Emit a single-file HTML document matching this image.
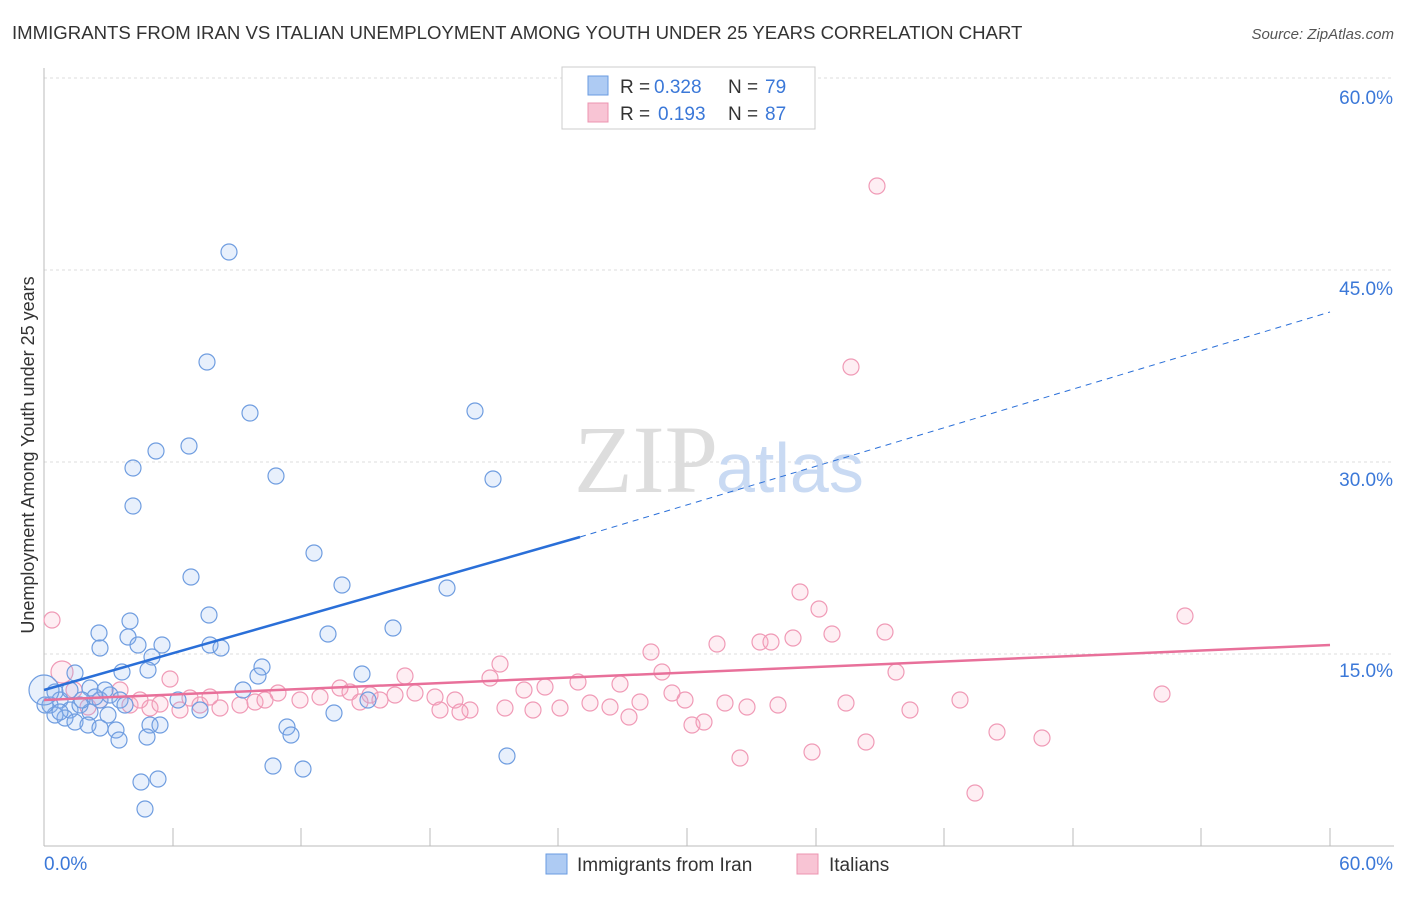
<!DOCTYPE html>
<html><head><meta charset="utf-8"><style>
body{margin:0;background:#fff;font-family:"Liberation Sans",sans-serif}
</style></head><body>
<svg width="1406" height="892" xmlns="http://www.w3.org/2000/svg" font-family="Liberation Sans, sans-serif">
<text x="12" y="39" font-size="18.6" fill="#333">IMMIGRANTS FROM IRAN VS ITALIAN UNEMPLOYMENT AMONG YOUTH UNDER 25 YEARS CORRELATION CHART</text>
<text x="1394" y="39" font-size="15" fill="#555" text-anchor="end" font-style="italic">Source: ZipAtlas.com</text>
<g stroke="#ddd" stroke-dasharray="3,3">
<line x1="44" y1="78" x2="1394" y2="78"/><line x1="44" y1="270" x2="1394" y2="270"/><line x1="44" y1="462" x2="1394" y2="462"/><line x1="44" y1="654" x2="1394" y2="654"/>
</g>
<line x1="44" y1="68" x2="44" y2="846" stroke="#bbb"/>
<line x1="44" y1="846" x2="1394" y2="846" stroke="#bbb"/>
<g stroke="#bbb">
<line x1="173" y1="828" x2="173" y2="846"/><line x1="301" y1="828" x2="301" y2="846"/><line x1="430" y1="828" x2="430" y2="846"/><line x1="558" y1="828" x2="558" y2="846"/><line x1="687" y1="828" x2="687" y2="846"/><line x1="816" y1="828" x2="816" y2="846"/><line x1="944" y1="828" x2="944" y2="846"/><line x1="1073" y1="828" x2="1073" y2="846"/><line x1="1201" y1="828" x2="1201" y2="846"/><line x1="1330" y1="828" x2="1330" y2="846"/>
</g>
<g fill="#3b78d8" font-size="19" text-anchor="end">
<text x="1393" y="104">60.0%</text><text x="1393" y="295">45.0%</text><text x="1393" y="486">30.0%</text><text x="1393" y="677">15.0%</text><text x="1393" y="870">60.0%</text>
</g>
<text x="44" y="870" fill="#3b78d8" font-size="19">0.0%</text>
<text transform="translate(34,455) rotate(-90)" font-size="18" fill="#333" text-anchor="middle">Unemployment Among Youth under 25 years</text>
<text x="718" y="492" font-size="96" fill="#ddd" text-anchor="end" font-family="Liberation Serif, serif">ZIP</text>
<text x="716" y="492" font-size="70" fill="#c9daf3">atlas</text>
<g id="pk" fill="rgba(248,170,195,0.2)" stroke="#f09ab6" stroke-width="1.2">
</g>
<g id="bl" fill="rgba(140,180,240,0.2)" stroke="#6f9de0" stroke-width="1.2">
</g>
<line x1="44" y1="690" x2="580" y2="537" stroke="#2a6fd8" stroke-width="2.5"/>
<line x1="580" y1="537" x2="1330" y2="312" stroke="#2a6fd8" stroke-width="1" stroke-dasharray="6,5"/>
<line x1="44" y1="700" x2="1330" y2="645" stroke="#e8709a" stroke-width="2.5"/>
<rect x="562" y="67" width="253" height="62" fill="#fff" stroke="#ccc"/>
<rect x="588" y="76" width="20" height="19" fill="#aecbf3" stroke="#6a9be0"/>
<rect x="588" y="103" width="20" height="19" fill="#f8c4d4" stroke="#ec94b0"/>
<g font-size="19" fill="#333"><text x="620" y="93">R =</text><text x="728" y="93">N =</text><text x="620" y="120">R =</text><text x="728" y="120">N =</text></g>
<g font-size="19" fill="#3b78d8"><text x="654" y="93">0.328</text><text x="765" y="93">79</text><text x="658" y="120">0.193</text><text x="765" y="120">87</text></g>
<rect x="546" y="854" width="21" height="20" fill="#aecbf3" stroke="#6a9be0"/>
<text x="577" y="871" font-size="19" fill="#333">Immigrants from Iran</text>
<rect x="797" y="854" width="21" height="20" fill="#f8c4d4" stroke="#ec94b0"/>
<text x="829" y="871" font-size="19" fill="#333">Italians</text>
</svg>
<script>
const ns="http://www.w3.org/2000/svg";
const blue=[[229,252],[207,362],[250,413],[475,411],[156,451],[189,446],[133,468],[276,476],[493,479],[133,506],[314,553],[191,577],[342,585],[447,588],[209,615],[130,621],[99,633],[128,637],[138,645],[162,645],[328,634],[393,628],[210,645],[221,648],[100,648],[152,657],[122,672],[262,667],[148,670],[362,674],[258,676],[55,692],[75,673],[243,690],[60,700],[50,705],[70,710],[80,705],[90,688],[100,700],[110,695],[120,700],[108,715],[90,712],[65,718],[75,722],[88,725],[100,728],[116,730],[150,725],[160,725],[178,700],[200,710],[334,713],[368,700],[287,727],[291,735],[119,740],[147,737],[273,766],[303,769],[507,756],[141,782],[158,779],[145,809],[55,715],[45,705],[60,712],[125,705],[105,690],[95,697],[70,690],[82,700]];
const pink=[[877,186],[851,367],[800,592],[819,609],[1185,616],[52,620],[885,632],[832,634],[717,644],[760,642],[771,642],[793,638],[651,652],[500,664],[662,672],[896,672],[405,676],[170,679],[74,690],[120,690],[545,687],[578,682],[620,684],[490,678],[524,690],[672,693],[1162,694],[340,688],[278,693],[300,700],[320,697],[350,692],[370,695],[395,695],[415,693],[435,697],[455,700],[470,710],[505,708],[533,710],[560,708],[590,703],[610,707],[640,702],[685,700],[725,703],[747,707],[778,705],[846,703],[960,700],[910,710],[629,717],[180,710],[200,705],[220,708],[240,705],[255,702],[190,698],[210,697],[130,705],[150,708],[100,700],[88,707],[692,725],[704,722],[740,758],[812,752],[866,742],[997,732],[1042,738],[975,793],[460,712],[440,710],[380,700],[360,702],[265,700],[160,704],[140,700]];
function add(id,arr){const g=document.getElementById(id);arr.forEach(p=>{const c=document.createElementNS(ns,"circle");c.setAttribute("cx",p[0]);c.setAttribute("cy",p[1]);c.setAttribute("r",p[2]||8);g.appendChild(c);});}
pink.push([62,672,11]);blue.push([44,690,15]);
add("pk",pink);add("bl",blue);
</script>
</body></html>
